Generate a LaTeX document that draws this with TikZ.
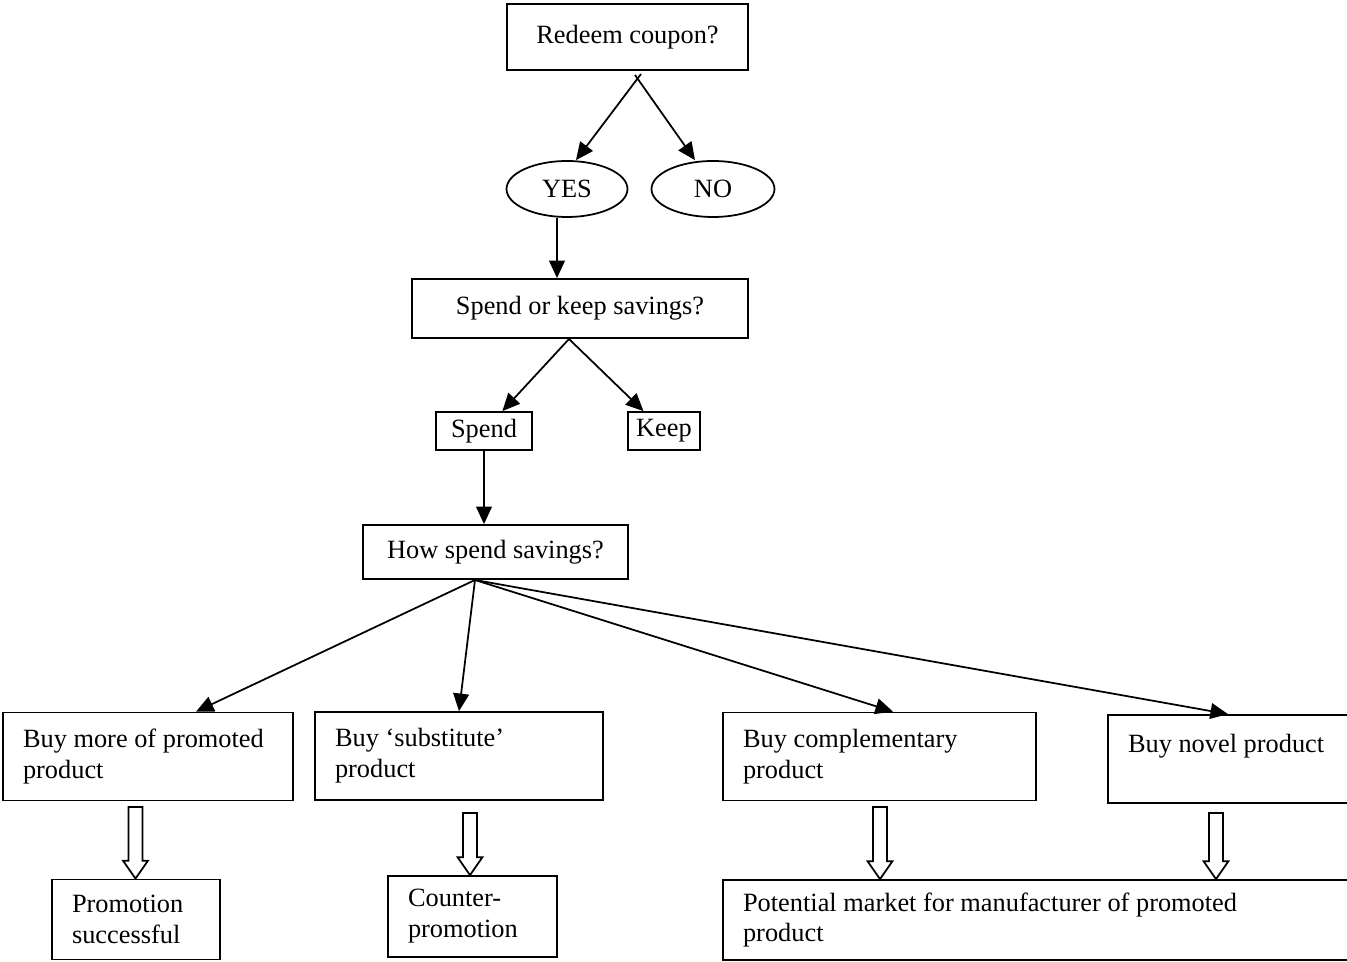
\documentclass[tikz,border=0pt]{standalone}
\usepackage{fontspec}
\setmainfont{Liberation Serif}
\usetikzlibrary{arrows.meta,calc,shapes.geometric}
\tikzset{
  box/.style={draw,line width=1pt,font=\fontsize{15pt}{17.6pt}\selectfont,inner sep=0pt},
  leftbox/.style={box,align=flush left,inner xsep=0.4cm,minimum height=1.76cm},
  oval/.style={box,ellipse,minimum height=1.12cm},
  arr/.style={line width=1pt,-{Triangle[length=10pt,width=9pt]}}
}
\newcommand{\hollowarrow}[2]{%
  \draw[line width=1pt,fill=white] let \p1=(#1), \p2=(#2) in
    (\x1-0.14cm,\y1) -- (\x1+0.14cm,\y1) -- (\x1+0.14cm,\y2+0.36cm)
    -- (\x1+0.25cm,\y2+0.36cm) -- (\x1,\y2) -- (\x1-0.25cm,\y2+0.36cm)
    -- (\x1-0.14cm,\y2+0.36cm) -- cycle;}
\begin{document}
\begin{tikzpicture}[x=0.02cm,y=-0.02cm]
\useasboundingbox (0,0) rectangle (1347,962);
% decisions
\node[box,minimum width=4.82cm,minimum height=1.32cm] (redeem) at (627.5,37) {Redeem coupon?};
\node[oval,minimum width=2.42cm] (yes) at (567,189) {YES};
\node[oval,minimum width=2.46cm] (no) at (713,189) {NO};
\node[box,minimum width=6.72cm,minimum height=1.18cm] (spendkeep) at (580,308.5) {Spend or keep savings?};
\node[box,minimum width=1.92cm,minimum height=0.76cm] (spend) at (484,431) {Spend};
\node[box,minimum width=1.44cm,minimum height=0.76cm] (keep) at (664,431) {Keep};
\node[box,minimum width=5.3cm,minimum height=1.08cm] (how) at (495.5,552) {How spend savings?};
% choices
\node[leftbox,minimum width=5.8cm,text width=5cm] (buymore) at (148,756.5) {Buy more of promoted\\product};
\node[leftbox,minimum width=5.76cm,text width=4.96cm] (buysub) at (459,756) {Buy ‘substitute’\\product};
\node[leftbox,minimum width=6.26cm,text width=5.46cm] (buycomp) at (879.5,756.5) {Buy complementary\\product};
\node[leftbox,minimum width=5.2cm,text width=4.4cm] (buynovel) at (1238,759) {Buy novel product\\\mbox{}};
% outcomes
\node[leftbox,minimum width=3.36cm,minimum height=1.6cm,text width=2.56cm] (promo) at (136,919.5) {Promotion\\successful};
\node[leftbox,minimum width=3.38cm,minimum height=1.62cm,text width=2.58cm] (counter) at (472.5,916.5) {Counter-\\promotion};
\node[leftbox,minimum width=12.92cm,minimum height=1.6cm,text width=12.12cm] (market) at (1046,920) {Potential market for manufacturer of promoted\\product};
%
\coordinate (yesstart) at (641,74);
\coordinate (nostart) at (635,75);
\coordinate (skfork) at (569,339);
\coordinate (howfork) at (475,580);
\draw[arr] (yesstart) -- ([xshift=0.18cm]yes.north);
\draw[arr] (nostart) -- ([xshift=-0.36cm]no.north);
\draw[arr] (yes.south -| 557,0) -- (spendkeep.north -| 557,0);
\draw[arr] (skfork) -- (spend);
\draw[arr] (skfork) -- (keep);
\draw[arr] (spend) -- (spend |- how.north);
\draw[arr] (howfork) -- ([xshift=0.96cm]buymore.north);
\draw[arr] (howfork) -- (buysub.north);
\draw[arr] (howfork) -- ([xshift=0.27cm]buycomp.north);
\draw[arr] (howfork) -- ([xshift=-0.2cm]buynovel.north);
%
\coordinate (h1) at (135.5,807);
\coordinate (h2) at (470,813);
\coordinate (h3) at (880,807);
\coordinate (h4) at (1216,813);
\hollowarrow{h1}{h1 |- promo.north}
\hollowarrow{h2}{h2 |- counter.north}
\hollowarrow{h3}{h3 |- market.north}
\hollowarrow{h4}{h4 |- market.north}
\end{tikzpicture}
\end{document}
